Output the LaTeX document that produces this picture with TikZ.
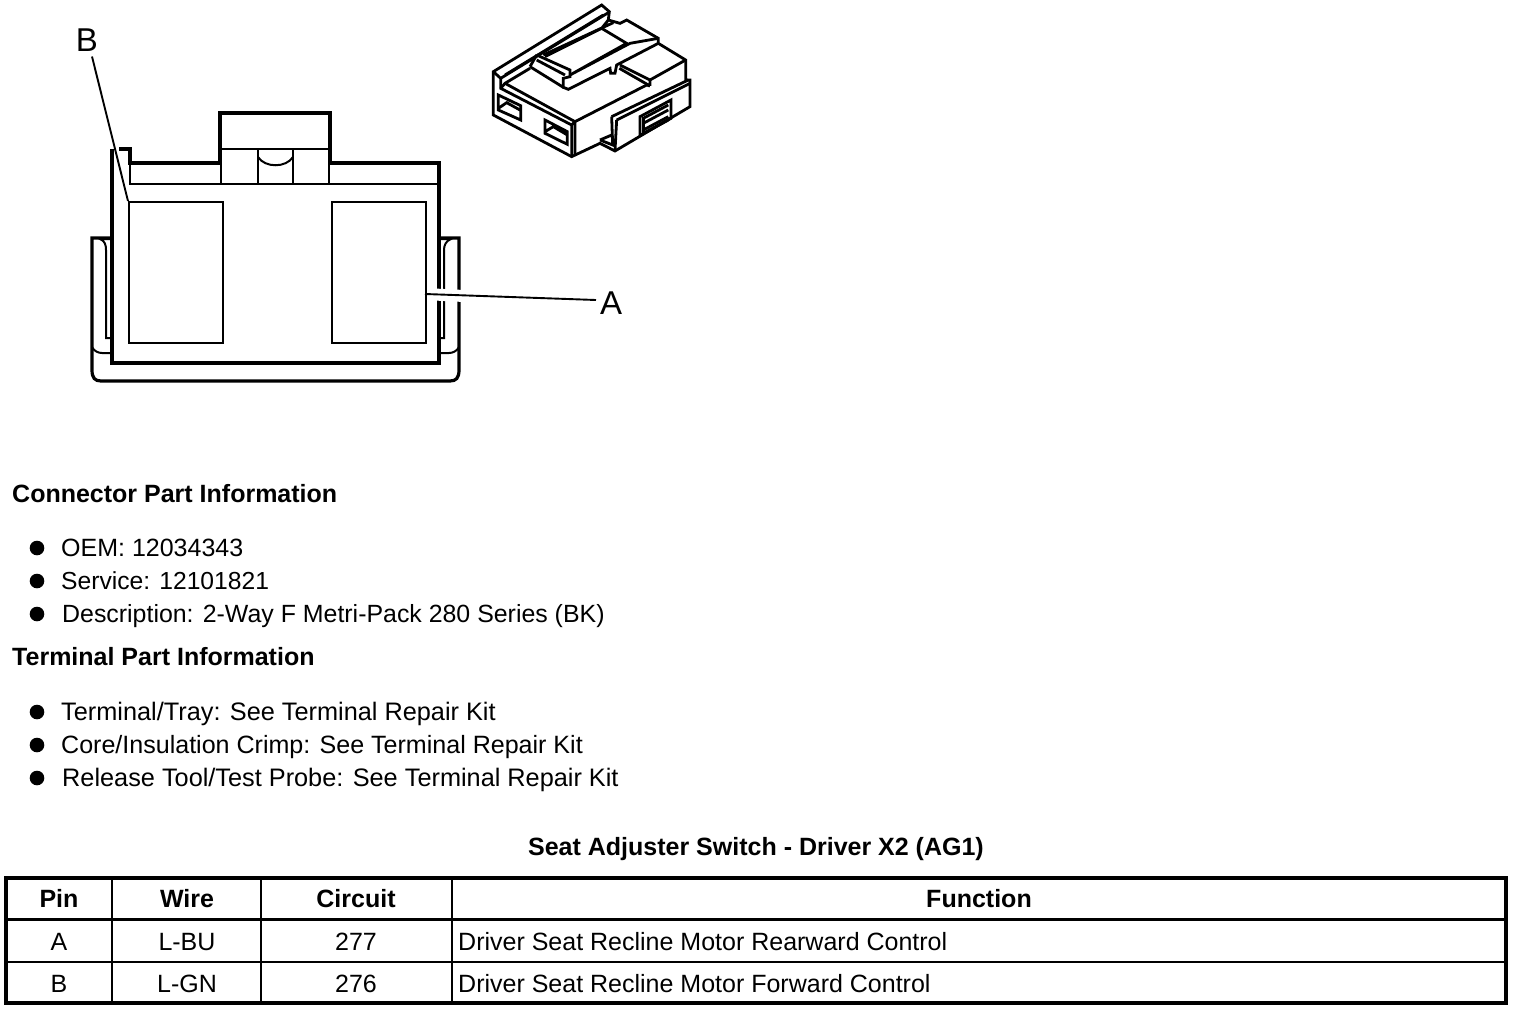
\documentclass[tikz,border=0pt]{standalone}
\usepackage{fontspec}
\setmainfont{Liberation Sans}
\tikzset{
  txt/.style={anchor=base west,inner sep=0pt,font=\fontsize{25}{28}\selectfont},
  head/.style={txt,font=\fontsize{25}{28}\selectfont\bfseries},
  cell/.style={anchor=base,inner sep=0pt,font=\fontsize{25}{28}\selectfont},
  hcell/.style={cell,font=\fontsize{25}{28}\selectfont\bfseries},
  callout/.style={inner sep=0pt,font=\fontsize{33}{36}\selectfont},
  cavity/.style={draw,line width=2pt,inner sep=0pt,anchor=north west,minimum width=94pt,minimum height=141pt},
  leader/.style={line width=1.9pt},
  thickline/.style={line width=3.2pt},
  medline/.style={line width=2pt}
}
\begin{document}
\begin{tikzpicture}[x=1pt,y=-1pt,line join=miter]
\useasboundingbox (0,0) rectangle (1520,1012);
% front view of connector
\draw[thickline] (112,238)--(112,149) (119,149)--(130,149)--(130,163)--(220,163)--(220,113)--(330,113)--(330,163)--(439,163)--(439,238);
\draw[thickline] (112,238)--(92,238)--(92,370) .. controls (92,378) and (95,381) .. (101,381)--(450,381) .. controls (456,381) and (459,378) .. (459,370)--(459,238)--(439,238);
\draw[thickline] (112,238)--(112,363)--(439,363)--(439,163);
\draw[medline] (130,163)--(130,184)--(439,184) (221,149)--(330,149) (221,149)--(221,184) (258,149)--(258,184) (293,149)--(293,184) (329,149)--(329,184);
\draw[medline] (258,157) .. controls (265,168) and (286,168) .. (293,157);
\draw[medline] (112,239)--(100,239) .. controls (105,241) and (106,245) .. (106,250)--(106,338)--(112,338);
\draw[medline] (439,239)--(451,239) .. controls (446,241) and (444,245) .. (444,250)--(444,338)--(439,338);
\draw[medline] (92,347) .. controls (94,351) and (98,353) .. (102,353)--(112,353);
\draw[medline] (459,347) .. controls (457,351) and (453,353) .. (449,353)--(439,353);
\node[cavity] (cavB) at (128,201) {};
\node[cavity] (cavA) at (331,201) {};
\node[callout] (labB) at (87,40) {B};
\node[callout] (labA) at (611,303) {A};
\draw[leader] (labB.south)++(5,5) coordinate (startB) -- (cavB.north west);
\coordinate (startA) at (596,300);
\coordinate (endA) at (425,294);
\draw[white,line width=12pt] (434,294.5) -- (464,296);
\draw[leader] (endA) -- (startA);
% isometric view
\begin{scope}[shift={(480,0)},x=0.3333pt,y=-0.3333pt,line width=2.8pt]
\draw (40,215)--(365,15)--(388,35)--(385,60)--(420,70)--(440,60)--(535,115)--(535,130)--(617,180)--(617,240)--(630,240)--(630,320)--(405,453)--(360,430)--(275,470)--(40,345)--cycle;
\draw (40,215)--(62,235)--(62,265)--(275,375)--(275,470);
\draw (62,235)--(385,38);
\draw (75,225)--(370,45);
\draw (62,265)--(75,250)--(150,205) (75,250)--(285,365)--(285,462);
\draw (275,375)--(285,365)--(500,255)--(510,258);
\draw (170,165)--(270,210)--(270,230)--(250,235)--(250,262)--(265,268)--(390,205)--(392,220)--(405,220)--(410,195)--(535,130);
\draw (150,200)--(250,262) (150,200)--(170,165) (170,180)--(255,225);
\draw (195,170)--(365,85)--(440,130)--(270,225) (270,225)--(450,130)--(535,115);
\draw (365,85)--(385,60) (190,165)--(400,68);
\draw (420,195)--(510,240)--(510,258) (418,205)--(505,255) (510,240)--(617,180);
\draw (395,350)--(625,240) (410,360)--(630,250) (395,350)--(398,435)--(360,420) (410,360)--(405,453) (360,420)--(400,403);
\draw (55,285)--(122,317)--(122,360)--(55,330)--cycle (55,325)--(80,308)--(120,330);
\draw (195,360)--(262,395)--(262,433)--(195,400)--cycle (195,395)--(220,380)--(262,405);
\draw (480,350)--(573,300)--(573,355)--(480,407)--cycle;
\foreach \y in {355,370,390,400}
\draw (490,\y)--(565,\y-40);
\draw (490,350)--(490,400);
\end{scope}
% part information
\node[head] (conn) at (12,502) {Connector Part Information};
\node[head] (term) at (12,665) {Terminal Part Information};
\foreach \n/\x/\y/\s/\t in {a/61/556/25/{OEM: 12034343},b/61/589/24.65/{Service: 12101821},c/62/622/24.9/{Description: 2-Way F Metri-Pack 280 Series (BK)},d/61/720/25.3/{Terminal/Tray: See Terminal Repair Kit},e/61/753/25.05/{Core/Insulation Crimp: See Terminal Repair Kit},f/62/786/25.3/{Release Tool/Test Probe: See Terminal Repair Kit}}{
  \node[txt,font=\fontsize{\s}{28}\selectfont] (item\n) at (\x,\y) {\t};
  \fill (37,\y-8) circle (7.3pt);
}
% table
\node[hcell] (title) at (756,855) {Seat Adjuster Switch - Driver X2 (AG1)};
\draw[line width=3.6pt] (6,878) rectangle (1506,1003);
\draw[line width=3pt] (6,919)--(1506,919);
\draw[line width=2.4pt] (6,962)--(1506,962);
\foreach \x in {112,261,452}
\draw[line width=1.8pt] (\x,878)--(\x,1003);
\foreach \n/\x/\t in {pin/59/Pin,wire/187/Wire,circ/356/Circuit,func/979/Function}
\node[hcell] (h\n) at (\x,907) {\t};
\foreach \n/\y/\p/\w/\c/\f in {r/950/A/L-BU/277/Rearward,s/992/B/L-GN/276/Forward}{
  \node[cell] (\n pin) at (59,\y) {\p};
  \node[cell] (\n wire) at (187,\y) {\w};
  \node[cell] (\n circ) at (356,\y) {\c};
  \node[txt] (\n func) at (458,\y) {Driver Seat Recline Motor \f\ Control};
}
\end{tikzpicture}
\end{document}
